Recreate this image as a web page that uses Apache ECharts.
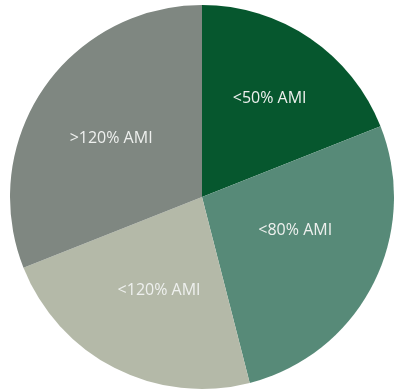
<!DOCTYPE html>
<html>
<head>
<meta charset="utf-8">
<style>
  html, body { margin: 0; padding: 0; background: #ffffff; }
  #chart { width: 396px; height: 391px; }
</style>
<script src="https://cdn.jsdelivr.net/npm/echarts@6/dist/echarts.min.js"></script>
</head>
<body>
<div id="chart"></div>
<script>
// Share of households by income band (percent of Area Median Income)
const categories = ['<50% AMI', '<80% AMI', '<120% AMI', '>120% AMI'];
const shares = [19, 27, 23, 31];
const sliceColors = ['#06572e', '#578a78', '#b4b9a8', '#7f8781'];
// small nudges of each slice label from its default inside spot
const labelNudge = [[12, -17], [5, -12], [2, 5], [-9, -3]];

const chart = echarts.init(document.getElementById('chart'));
chart.setOption({
  backgroundColor: '#ffffff',
  animation: false,
  series: [{
    type: 'pie',
    center: [202, 197],
    radius: [0, 192],
    startAngle: 90,
    clockwise: true,
    silent: true,
    itemStyle: { borderWidth: 0 },
    label: {
      show: true,
      position: 'inside',
      formatter: '{b}',
      color: '#eef0ee',
      fontFamily: 'Open Sans',
      fontSize: 16,
      fontWeight: 'normal'
    },
    labelLine: { show: false },
    labelLayout: function (p) {
      const n = labelNudge[p.dataIndex];
      return { dx: n[0], dy: n[1] };
    },
    data: categories.map((name, i) => ({
      name: name,
      value: shares[i],
      itemStyle: { color: sliceColors[i] }
    }))
  }]
});
</script>
</body>
</html>
